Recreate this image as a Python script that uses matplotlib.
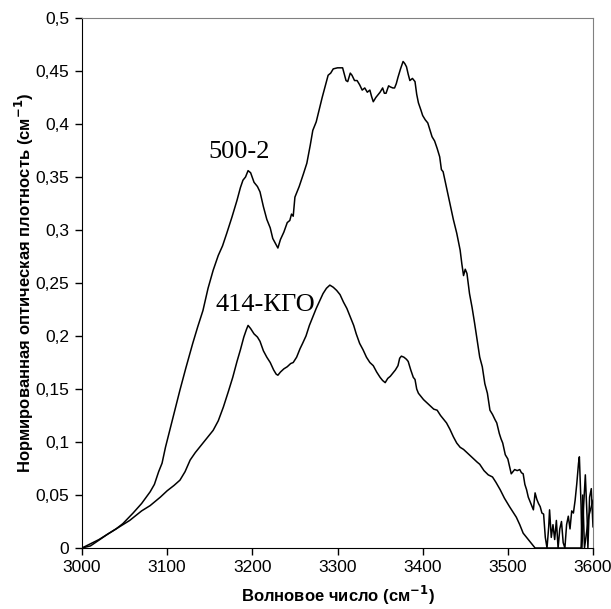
import matplotlib
matplotlib.use("Agg")
import matplotlib.pyplot as plt
from matplotlib.ticker import FuncFormatter, MultipleLocator

# --- data: curve "500-2" ---
wn_500 = [3000, 3010, 3020, 3030, 3040, 3048, 3060, 3070, 3080, 3085, 3090, 3094, 3098, 3103,
          3109, 3115, 3122, 3130, 3136, 3142, 3148, 3154, 3160, 3165, 3170, 3176, 3182, 3186,
          3189, 3192, 3195, 3198, 3202, 3206, 3209, 3213, 3217, 3221, 3224, 3228, 3230, 3233,
          3237, 3241, 3244, 3246, 3248, 3250, 3255, 3260, 3264, 3268, 3271, 3275, 3279, 3282,
          3286, 3289, 3292, 3295, 3300, 3306, 3308, 3310, 3312, 3315, 3317, 3320, 3323, 3326,
          3329, 3332, 3335, 3338, 3340, 3342, 3345, 3348, 3350, 3353, 3355, 3357, 3360, 3362,
          3365, 3367, 3369, 3371, 3374, 3377, 3379, 3381, 3383, 3385, 3388, 3391, 3393, 3395,
          3398, 3400, 3403, 3406, 3409, 3411, 3414, 3417, 3420, 3422, 3424, 3428, 3432, 3436,
          3440, 3444, 3446, 3448, 3450, 3452, 3455, 3458, 3461, 3464, 3467, 3470, 3473, 3476,
          3479, 3482, 3485, 3487, 3490, 3492, 3494, 3497, 3500, 3502, 3504, 3506, 3508, 3511,
          3514, 3516, 3518, 3520, 3522, 3524, 3526, 3528, 3530, 3532, 3534, 3536, 3538, 3540,
          3542, 3544, 3546, 3548, 3549, 3551, 3553, 3555, 3557, 3559, 3561, 3563, 3565, 3567,
          3569, 3571, 3573, 3575, 3577, 3579, 3581, 3583, 3584, 3586, 3587, 3589, 3591, 3593,
          3594, 3596, 3598, 3600]
val_500 = [0.000, 0.004, 0.008, 0.013, 0.018, 0.023, 0.033, 0.042, 0.053, 0.060, 0.072, 0.080, 0.095, 0.111,
           0.130, 0.149, 0.170, 0.193, 0.209, 0.224, 0.245, 0.262, 0.276, 0.285, 0.297, 0.312, 0.328, 0.340,
           0.347, 0.350, 0.356, 0.354, 0.345, 0.341, 0.336, 0.322, 0.310, 0.302, 0.292, 0.286, 0.283, 0.291,
           0.298, 0.307, 0.309, 0.315, 0.313, 0.331, 0.341, 0.353, 0.363, 0.380, 0.394, 0.402, 0.415, 0.425,
           0.437, 0.446, 0.448, 0.452, 0.453, 0.453, 0.447, 0.441, 0.440, 0.448, 0.446, 0.441, 0.441, 0.437,
           0.432, 0.434, 0.430, 0.432, 0.426, 0.421, 0.425, 0.428, 0.430, 0.434, 0.429, 0.429, 0.436, 0.435,
           0.434, 0.434, 0.438, 0.444, 0.452, 0.459, 0.457, 0.454, 0.447, 0.441, 0.443, 0.440, 0.428, 0.420,
           0.413, 0.408, 0.404, 0.401, 0.393, 0.388, 0.384, 0.377, 0.369, 0.357, 0.355, 0.340, 0.325, 0.310,
           0.297, 0.281, 0.268, 0.257, 0.263, 0.259, 0.240, 0.227, 0.212, 0.196, 0.180, 0.171, 0.155, 0.146,
           0.130, 0.126, 0.121, 0.118, 0.108, 0.103, 0.099, 0.088, 0.084, 0.077, 0.070, 0.072, 0.074, 0.073,
           0.074, 0.071, 0.070, 0.060, 0.055, 0.048, 0.044, 0.040, 0.036, 0.052, 0.046, 0.042, 0.039, 0.033,
           0.032, 0.010, 0.000, 0.020, 0.036, 0.010, 0.022, 0.008, 0.026, 0.000, 0.018, 0.025, 0.005, 0.000,
           0.022, 0.030, 0.018, 0.035, 0.033, 0.045, 0.061, 0.080, 0.086, 0.040, 0.000, 0.040, 0.069, 0.030,
           0.000, 0.048, 0.056, 0.020]

# --- data: curve "414-КГО" ---
wn_414 = [3000, 3010, 3021, 3030, 3040, 3056, 3070, 3080, 3092, 3100, 3108, 3115, 3121, 3127,
          3133, 3138, 3142, 3148, 3154, 3160, 3166, 3172, 3177, 3182, 3186, 3190, 3193, 3195,
          3198, 3202, 3206, 3209, 3213, 3217, 3221, 3225, 3228, 3230, 3233, 3237, 3241, 3245,
          3248, 3252, 3256, 3259, 3263, 3267, 3271, 3275, 3279, 3283, 3287, 3291, 3295, 3299,
          3303, 3307, 3311, 3315, 3319, 3322, 3326, 3330, 3334, 3338, 3342, 3346, 3350, 3353,
          3356, 3359, 3362, 3365, 3368, 3371, 3373, 3375, 3378, 3381, 3383, 3386, 3389, 3391,
          3393, 3395, 3398, 3401, 3405, 3409, 3413, 3417, 3421, 3424, 3428, 3432, 3436, 3440,
          3444, 3448, 3452, 3456, 3460, 3464, 3467, 3472, 3477, 3482, 3486, 3491, 3496, 3502,
          3506, 3510, 3514, 3518, 3522, 3528, 3532, 3545, 3560, 3580, 3586, 3588, 3590, 3595,
          3600]
val_414 = [0.000, 0.002, 0.008, 0.013, 0.018, 0.026, 0.035, 0.040, 0.048, 0.054, 0.059, 0.064, 0.072, 0.083,
           0.090, 0.095, 0.099, 0.105, 0.111, 0.120, 0.133, 0.148, 0.161, 0.176, 0.187, 0.199, 0.206, 0.210,
           0.207, 0.202, 0.199, 0.195, 0.186, 0.180, 0.175, 0.168, 0.164, 0.163, 0.166, 0.169, 0.171, 0.174,
           0.175, 0.180, 0.188, 0.193, 0.200, 0.210, 0.218, 0.226, 0.233, 0.240, 0.245, 0.248, 0.246, 0.243,
           0.239, 0.232, 0.226, 0.218, 0.210, 0.202, 0.193, 0.187, 0.180, 0.175, 0.172, 0.166, 0.161, 0.158,
           0.156, 0.160, 0.162, 0.165, 0.168, 0.172, 0.179, 0.181, 0.180, 0.178, 0.176, 0.168, 0.161, 0.159,
           0.150, 0.146, 0.143, 0.140, 0.137, 0.134, 0.131, 0.130, 0.125, 0.122, 0.118, 0.112, 0.105, 0.099,
           0.095, 0.093, 0.090, 0.087, 0.084, 0.081, 0.079, 0.073, 0.069, 0.067, 0.062, 0.055, 0.047, 0.039,
           0.034, 0.029, 0.022, 0.014, 0.010, 0.004, 0.000, 0.000, 0.000, 0.000, 0.000, 0.050, 0.000, 0.030,
           0.045]

label_500 = "500-2"
label_414 = "414-КГО"
x_ticks = [3000, 3100, 3200, 3300, 3400, 3500, 3600]

fig = plt.figure(figsize=(6.11, 6.09), dpi=100)
ax = fig.add_axes([82/611, 1-548/609, (593-82)/611, (548-18)/609])

ax.plot(wn_500, val_500, color="black", lw=1.1)
ax.plot(wn_414, val_414, color="black", lw=1.1)

ax.set_xlim(3000, 3600)
ax.set_ylim(0, 0.5)
ax.set_xticks(x_ticks)
ax.yaxis.set_major_locator(MultipleLocator(0.05))

def fmt(v, pos):
    s = ("%.2f" % v).rstrip("0").rstrip(".")
    return s.replace(".", ",")
ax.yaxis.set_major_formatter(FuncFormatter(fmt))

for s in ["top", "right"]:
    ax.spines[s].set_color("#808080")
for s in ["left", "bottom"]:
    ax.spines[s].set_color("black")
ax.tick_params(direction="out", length=5, width=1, labelsize=12.5, pad=4)
for lab in ax.get_xticklabels() + ax.get_yticklabels():
    lab.set_fontfamily("Liberation Sans")

ax.set_xlabel("Волновое число (см$^{\\mathbf{-1}}$)", fontsize=12, fontweight="bold",
              family="Liberation Sans", labelpad=6)
ax.set_ylabel("Нормированная оптическая плотность (см$^{\\mathbf{-1}}$)", fontsize=12,
              fontweight="bold", family="Liberation Sans", labelpad=0)

ax.text(3185, 0.374, label_500, fontsize=19, family="Liberation Serif", ha="center", va="center")
ax.text(3215, 0.229, label_414, fontsize=19, family="Liberation Serif", ha="center", va="center")

fig.savefig("out.png", dpi=100)
